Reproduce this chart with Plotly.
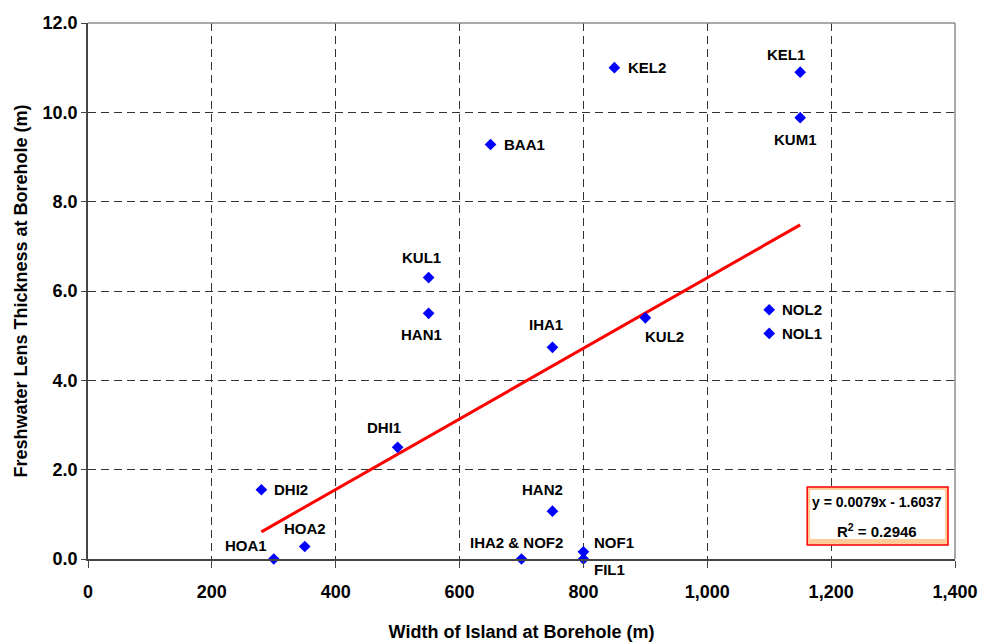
import plotly.graph_objects as go
import numpy as np

# ---- data ----
names = ["HOA1", "HOA2", "DHI2", "DHI1", "HAN1", "KUL1", "BAA1", "IHA1", "HAN2",
         "IHA2 & NOF2", "NOF1", "FIL1", "KEL2", "KUL2", "KEL1", "KUM1", "NOL2", "NOL1"]
width_m = [300, 350, 280, 500, 550, 550, 650, 750, 750,
           700, 800, 800, 850, 900, 1150, 1150, 1100, 1100]
thickness_m = [0.0, 0.28, 1.55, 2.5, 5.5, 6.3, 9.28, 4.74, 1.07,
               0.0, 0.16, 0.0, 11.0, 5.4, 10.9, 9.88, 5.58, 5.05]
trend_slope = 0.0079
trend_intercept = -1.6037
r_squared = 0.2946
x_ticks = [0, 200, 400, 600, 800, 1000, 1200, 1400]
y_ticks = [0, 2, 4, 6, 8, 10, 12]

# label placement: (xanchor, xshift, yshift) per point, in screen pixels
label_place = {
    "HOA1": ("center", -28, 14), "HOA2": ("center", 0, 18), "DHI2": ("left", 11, 0),
    "DHI1": ("center", -14, 20), "HAN1": ("center", -7, -21), "KUL1": ("center", -7, 20),
    "BAA1": ("left", 11, 0), "IHA1": ("center", -6, 23), "HAN2": ("center", -10, 22),
    "IHA2 & NOF2": ("center", -5, 17), "NOF1": ("left", 9, 9), "FIL1": ("left", 9, -10),
    "KEL2": ("left", 12, 0), "KUL2": ("center", 19, -19), "KEL1": ("center", -14, 18),
    "KUM1": ("center", -5, -22), "NOL2": ("left", 11, 0), "NOL1": ("left", 11, 0),
}

FONT = "Arial, 'Liberation Sans', sans-serif"

fig = go.Figure()

# trend line
tx = np.array([min(width_m), max(width_m)])
ty = trend_slope * tx + trend_intercept
fig.add_trace(go.Scatter(x=tx, y=ty, mode="lines",
                         line=dict(color="#FF0000", width=3),
                         hoverinfo="skip", showlegend=False))

# points
fig.add_trace(go.Scatter(x=width_m, y=thickness_m, mode="markers",
                         marker=dict(symbol="diamond", size=9, color="#0000FF",
                                     line=dict(width=0)),
                         cliponaxis=False, showlegend=False))

annotations = []
for n, xv, yv in zip(names, width_m, thickness_m):
    anc, dx, dy = label_place[n]
    annotations.append(dict(x=xv, y=yv, xref="x", yref="y", text=n, showarrow=False,
                            xanchor=anc, yanchor="middle", xshift=dx, yshift=dy,
                            font=dict(family=FONT, size=15, color="#000000", weight="bold")))

# equation box
annotations.append(dict(x=1274, y=1.276, xref="x", yref="y",
                        text=f"y = {trend_slope}x - {abs(trend_intercept)}",
                        showarrow=False, xanchor="center", yanchor="middle",
                        font=dict(family=FONT, size=14, color="#000000", weight="bold")))
annotations.append(dict(x=1274, y=0.649, xref="x", yref="y",
                        text=f"R<sup>2</sup> = {r_squared}",
                        showarrow=False, xanchor="center", yanchor="middle",
                        font=dict(family=FONT, size=15, color="#000000", weight="bold")))

shapes = [
    dict(type="rect", xref="x", yref="y", x0=1161.3, x1=1388.7, y0=0.313, y1=1.612,
         fillcolor="#FFCC99", line=dict(color="#FF0000", width=1.5), layer="above"),
    dict(type="rect", xref="x", yref="y", x0=1166.1, x1=1383.9, y0=0.448, y1=1.545,
         fillcolor="#FFFFFF", line=dict(width=0), layer="above"),
    # top and right frame lines
    dict(type="line", xref="paper", yref="paper", x0=0, x1=1, y0=1, y1=1,
         line=dict(color="#8C8C8C", width=1.5), layer="above"),
    dict(type="line", xref="paper", yref="paper", x0=1, x1=1, y0=0, y1=1,
         line=dict(color="#8C8C8C", width=1.5), layer="above"),
]

fig.update_layout(
    width=983, height=643,
    margin=dict(l=88, r=28, t=23, b=84, autoexpand=False),
    paper_bgcolor="#FFFFFF", plot_bgcolor="#FFFFFF",
    font=dict(family=FONT, color="#000000"),
    annotations=annotations, shapes=shapes,
    showlegend=False,
)
fig.update_xaxes(
    range=[0, 1400], tickvals=x_ticks, tickformat=",d", automargin=False,
    showgrid=True, gridcolor="#333333", gridwidth=1, griddash="8px,5px",
    showline=True, linecolor="#444444", linewidth=1.5,
    ticks="outside", ticklen=7, tickcolor="#444444",
    ticklabelstandoff=9,
    tickfont=dict(family=FONT, size=18, color="#000000", weight="bold"),
    zeroline=False,
    title=dict(text="Width of Island at Borehole (m)", standoff=24,
               font=dict(family=FONT, size=18, color="#000000", weight="bold")),
)
fig.update_yaxes(
    range=[0, 12], tickvals=y_ticks, tickformat=".1f", automargin=False,
    showgrid=True, gridcolor="#333333", gridwidth=1, griddash="8px,5px",
    showline=True, linecolor="#444444", linewidth=1.5,
    ticks="outside", ticklen=5, tickcolor="#444444",
    tickfont=dict(family=FONT, size=18, color="#000000", weight="bold"),
    zeroline=False,
    title=dict(text="Freshwater Lens Thickness at Borehole (m)", standoff=10,
               font=dict(family=FONT, size=18, color="#000000", weight="bold")),
)

fig.write_html("out.html")
